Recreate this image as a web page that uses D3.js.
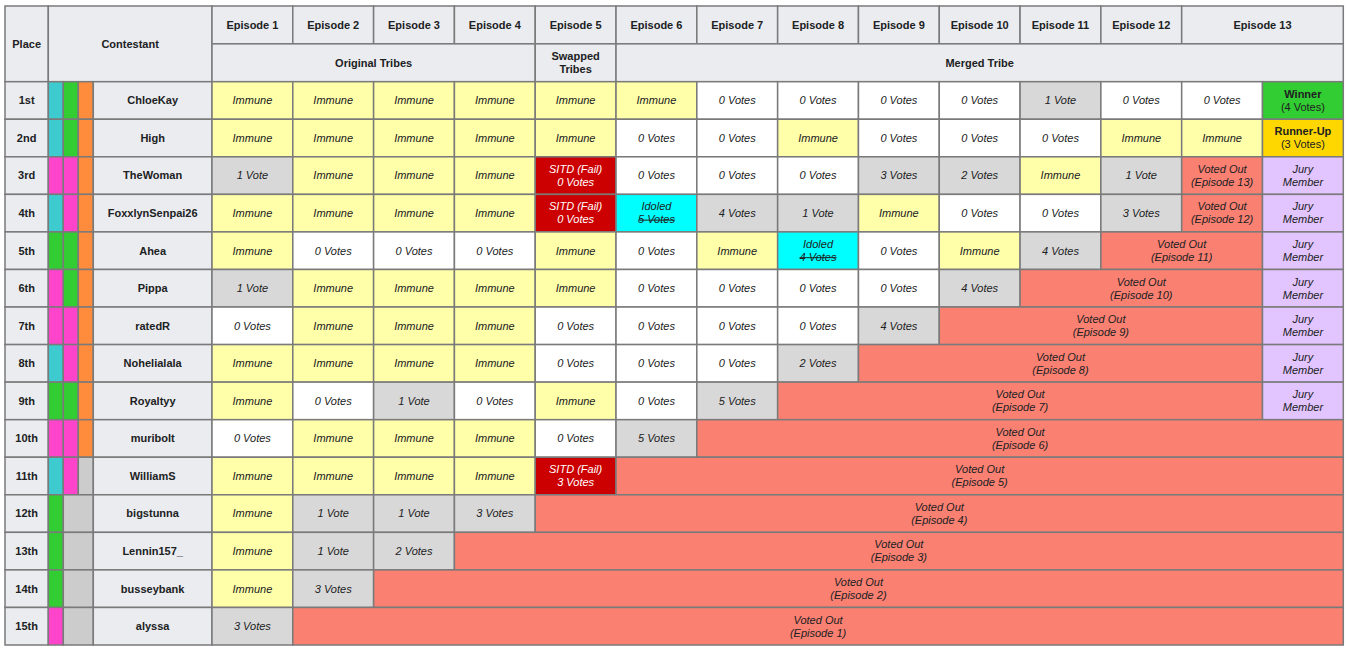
<!DOCTYPE html>
<html>
<head>
<meta charset="utf-8">
<script src="https://cdn.jsdelivr.net/npm/d3@7"></script>
<style>
  body { margin: 0; background: #fff; }
  svg { display: block; }
  text { font-family: "Liberation Sans", Arial, sans-serif; font-size: 11px; fill: #202122; }
</style>
</head>
<body>
<svg id="chart" width="1347" height="652"></svg>
<script>
// ---------------- DATA ----------------
const episodes = ["Episode 1","Episode 2","Episode 3","Episode 4","Episode 5","Episode 6","Episode 7",
                  "Episode 8","Episode 9","Episode 10","Episode 11","Episode 12","Episode 13"];
const episodeSpans = [1,1,1,1,1,1,1,1,1,1,1,1,2];
const phases = ["Original Tribes","Swapped Tribes","Merged Tribe"];
const phaseSpans = [4,1,9];

const places = ["1st","2nd","3rd","4th","5th","6th","7th","8th","9th","10th","11th","12th","13th","14th","15th"];
const contestants = ["ChloeKay","High","TheWoman","FoxxlynSenpai26","Ahea","Pippa","ratedR","Nohelialala",
                     "Royaltyy","muribolt","WilliamS","bigstunna","Lennin157_","busseybank","alyssa"];
// tribe membership: C = cyan, G = green, O = orange, P = pink, X = none
const tribes = [
  ["C","G","O"],["C","G","O"],["P","P","O"],["C","P","O"],["G","G","O"],
  ["P","G","O"],["P","P","O"],["C","P","O"],["G","G","O"],["P","P","O"],
  ["C","P","X"],["G","X","X"],["G","X","X"],["G","X","X"],["P","X","X"]
];
const I = "Immune", Z = "0 Votes";
const results = [
  [I,I,I,I,I,I,Z,Z,Z,Z,"1 Vote",Z,Z,"Winner|(4 Votes)"],
  [I,I,I,I,I,Z,Z,I,Z,Z,Z,I,I,"Runner-Up|(3 Votes)"],
  ["1 Vote",I,I,I,"SITD (Fail)|0 Votes",Z,Z,Z,"3 Votes","2 Votes",I,"1 Vote","Voted Out|(Episode 13)","Jury|Member"],
  [I,I,I,I,"SITD (Fail)|0 Votes","Idoled|5 Votes","4 Votes","1 Vote",I,Z,Z,"3 Votes","Voted Out|(Episode 12)","Jury|Member"],
  [I,Z,Z,Z,I,Z,I,"Idoled|4 Votes",Z,I,"4 Votes","Voted Out|(Episode 11)","Jury|Member"],
  ["1 Vote",I,I,I,I,Z,Z,Z,Z,"4 Votes","Voted Out|(Episode 10)","Jury|Member"],
  [Z,I,I,I,Z,Z,Z,Z,"4 Votes","Voted Out|(Episode 9)","Jury|Member"],
  [I,I,I,I,Z,Z,Z,"2 Votes","Voted Out|(Episode 8)","Jury|Member"],
  [I,Z,"1 Vote",Z,I,Z,"5 Votes","Voted Out|(Episode 7)","Jury|Member"],
  [Z,I,I,I,Z,"5 Votes","Voted Out|(Episode 6)"],
  [I,I,I,I,"SITD (Fail)|3 Votes","Voted Out|(Episode 5)"],
  [I,"1 Vote","1 Vote","3 Votes","Voted Out|(Episode 4)"],
  [I,"1 Vote","2 Votes","Voted Out|(Episode 3)"],
  [I,"3 Votes","Voted Out|(Episode 2)"],
  ["3 Votes","Voted Out|(Episode 1)"]
];

// ---------------- STYLES ----------------
const tribeColor = { C: "#3ecbd0", G: "#32cd32", O: "#ff8c3c", P: "#ff44cc", X: "#cccccc" };
const headerBg = "#eaecf0";
const borderColor = "#7a7a7a";
function cellStyle(t) {
  if (t === "Immune") return { fill: "#ffffaa" };
  if (t === "0 Votes") return { fill: "#ffffff" };
  if (/^\d+ Votes?$/.test(t)) return { fill: "#d8d8d8" };
  if (t.startsWith("SITD")) return { fill: "#cc0000", color: "#ffffff" };
  if (t.startsWith("Idoled")) return { fill: "#00ffff", strike: true };
  if (t.startsWith("Voted Out")) return { fill: "#fa8072" };
  if (t.startsWith("Winner")) return { fill: "#32cd32", final: true };
  if (t.startsWith("Runner-Up")) return { fill: "#ffd700", final: true };
  if (t.startsWith("Jury")) return { fill: "#e2c4ff" };
  return { fill: "#ffffff" };
}

// ---------------- LAYOUT ----------------
const svg = d3.select("#chart");
const nCols = 14;
const x = d3.scaleLinear().domain([0, nCols]).range([212, 1343.3]);
const y = d3.scaleLinear().domain([0, places.length]).range([81.7, 645]);
const hy = d3.scaleLinear().domain([0, 2]).range([6, 81.7]);
const tx = d3.scaleLinear().domain([0, 3]).range([48.3, 93.3]);
const placeX = [5, 48.3];
const nameX = [93.3, 212];

const g = svg.append("g");

function cell(x0, x1, y0, y1, fill, lines, opts = {}) {
  g.append("rect").attr("x", x0).attr("y", y0).attr("width", x1 - x0).attr("height", y1 - y0)
    .attr("fill", fill).attr("stroke", borderColor).attr("stroke-width", 1.5);
  if (!lines) return;
  const cx = (x0 + x1) / 2, cy = (y0 + y1) / 2;
  const lh = 13;
  lines.forEach((ln, i) => {
    const ty = cy + (i - (lines.length - 1) / 2) * lh;
    const bold = opts.final ? i === 0 : opts.bold;
    const italic = opts.final ? false : opts.italic;
    const t = g.append("text").attr("x", cx).attr("y", ty).attr("dy", "0.35em")
      .attr("text-anchor", "middle")
      .attr("font-weight", bold ? "bold" : "normal")
      .attr("font-style", italic ? "italic" : "normal")
      .style("fill", opts.color || "#202122")
      .text(ln);
    if (opts.strike && i === lines.length - 1) {
      const w = t.node().getComputedTextLength();
      g.append("line").attr("x1", cx - w / 2).attr("x2", cx + w / 2)
        .attr("y1", ty + 0.5).attr("y2", ty + 0.5)
        .attr("stroke", "#202122").attr("stroke-width", 1);
    }
  });
}

// Header
cell(placeX[0], placeX[1], hy(0), hy(2), headerBg, ["Place"], { bold: true });
cell(tx(0), nameX[1], hy(0), hy(2), headerBg, ["Contestant"], { bold: true });
let c = 0;
episodes.forEach((e, i) => {
  cell(x(c), x(c + episodeSpans[i]), hy(0), hy(1), headerBg, [e], { bold: true });
  c += episodeSpans[i];
});
c = 0;
phases.forEach((p, i) => {
  const lines = p === "Swapped Tribes" ? ["Swapped", "Tribes"] : [p];
  cell(x(c), x(c + phaseSpans[i]), hy(1), hy(2), headerBg, lines, { bold: true });
  c += phaseSpans[i];
});

// Rows
places.forEach((pl, r) => {
  const y0 = y(r), y1 = y(r + 1);
  cell(placeX[0], placeX[1], y0, y1, headerBg, [pl], { bold: true });
  // tribe cells (merge consecutive "X")
  const tr = tribes[r];
  let k = 0;
  while (k < tr.length) {
    let e = k + 1;
    if (tr[k] === "X") while (e < tr.length && tr[e] === "X") e++;
    cell(tx(k), tx(e), y0, y1, tribeColor[tr[k]], null);
    k = e;
  }
  cell(nameX[0], nameX[1], y0, y1, headerBg, [contestants[r]], { bold: true });
  const row = results[r];
  let col = 0;
  row.forEach(t => {
    const span = t.startsWith("Voted Out") ? nCols - (row.length - 1) : 1;
    const st = cellStyle(t);
    cell(x(col), x(col + span), y0, y1, st.fill, t.split("|"),
      { italic: true, final: st.final, color: st.color, strike: st.strike });
    col += span;
  });
});
</script>
</body>
</html>
